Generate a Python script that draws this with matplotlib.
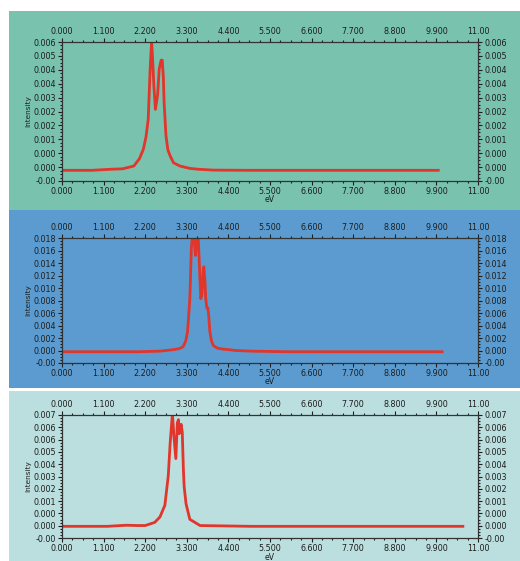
import numpy as np
import matplotlib
matplotlib.use("Agg")
import matplotlib.pyplot as plt
from matplotlib.patches import Rectangle
from matplotlib.ticker import AutoMinorLocator, FixedLocator

# ---- data ----
x_top = [0.0, 0.8, 1.3, 1.6, 1.9, 2.05, 2.15, 2.22, 2.28, 2.33, 2.37, 2.40, 2.43,
         2.47, 2.53, 2.57, 2.62, 2.65, 2.68, 2.70, 2.75, 2.80, 2.86, 2.95, 3.12,
         3.38, 3.6, 4.0, 5.0, 7.0, 9.95]
y_top = [0.00015, 0.00015, 0.00020, 0.00022, 0.00035, 0.0007, 0.00113, 0.0017,
         0.00254, 0.00487, 0.0062, 0.0052, 0.00409, 0.0030, 0.0037, 0.00487,
         0.0053, 0.0053, 0.0045, 0.00331, 0.00175, 0.0011, 0.00082, 0.0005,
         0.00035, 0.00024, 0.0002, 0.00016, 0.00015, 0.00015, 0.00015]

x_mid = [0.0, 2.0, 2.6, 2.9, 3.1, 3.2, 3.27, 3.32, 3.38, 3.42, 3.45, 3.49, 3.53,
         3.56, 3.60, 3.63, 3.67, 3.70, 3.73, 3.75, 3.78, 3.80, 3.83, 3.86, 3.88,
         3.91, 3.95, 4.0, 4.1, 4.22, 4.6, 5.0, 6.0, 10.05]
y_mid = [-0.0002, -0.0002, -0.0001, 0.0001, 0.0003, 0.0006, 0.0015, 0.003,
         0.0083, 0.0163, 0.0186, 0.0180, 0.0152, 0.0180, 0.0186, 0.014, 0.0083,
         0.009, 0.0125, 0.0134, 0.011, 0.0083, 0.0068, 0.0068, 0.0055, 0.003,
         0.0016, 0.0008, 0.0004, 0.00025, 0.0, -0.0001, -0.0002, -0.0002]

x_bot = [0.0, 1.2, 1.7, 2.0, 2.2, 2.45, 2.59, 2.72, 2.81, 2.86, 2.92, 2.96, 3.01,
         3.05, 3.08, 3.10, 3.15, 3.18, 3.21, 3.23, 3.28, 3.38, 3.65, 4.2, 5.0, 10.6]
y_bot = [0.00005, 0.00005, 0.00012, 0.0001, 0.0001, 0.0003, 0.00065, 0.0014,
         0.0033, 0.0054, 0.0073, 0.0058, 0.0044, 0.0067, 0.0069, 0.0060, 0.0066,
         0.0061, 0.0037, 0.0026, 0.0015, 0.0005, 0.0001, 0.00008, 0.00005, 0.00005]

x_ticks = [0.0, 1.1, 2.2, 3.3, 4.4, 5.5, 6.6, 7.7, 8.8, 9.9, 11.0]
x_labels = ["0.000", "1.100", "2.200", "3.300", "4.400", "5.500", "6.600",
            "7.700", "8.800", "9.900", "11.00"]

ylim_top = (-0.00035, 0.00615)
ylab_top = ["-0.00", "0.000", "0.000", "0.001", "0.002", "0.002", "0.003",
            "0.004", "0.004", "0.005", "0.006"]
ylim_mid = (-0.002, 0.018)
ylab_mid = ["-0.00", "0.000", "0.002", "0.004", "0.006", "0.008", "0.010",
            "0.012", "0.014", "0.016", "0.018"]
ylim_bot = (-0.0007, 0.0072)
ylab_bot = ["-0.00", "0.000", "0.000", "0.001", "0.002", "0.003", "0.004",
            "0.005", "0.006", "0.006", "0.007"]

W, H = 520, 561
fig = plt.figure(figsize=(W / 100, H / 100), dpi=100)
fig.patch.set_facecolor("white")

panels = [
    # (bg colour, panel top px, panel bottom px, axes top px, axes bottom px)
    ("#79c2ae", 11, 210, 42, 181, x_top, y_top, ylim_top, ylab_top),
    ("#5c9bcf", 210, 388, 238, 363, x_mid, y_mid, ylim_mid, ylab_mid),
    ("#badfde", 391, 561, 415, 538, x_bot, y_bot, ylim_bot, ylab_bot),
]

txt = "#1e1e1e"
for bg, ptop, pbot, atop, abot, xs, ys, ylim, ylab in panels:
    fig.add_artist(Rectangle((9 / W, 1 - pbot / H), (W - 9) / W, (pbot - ptop) / H,
                             transform=fig.transFigure, facecolor=bg,
                             edgecolor="none", zorder=0))
    ax = fig.add_axes([62 / W, 1 - abot / H, 416 / W, (abot - atop) / H])
    ax.set_facecolor(bg)
    ax.plot(xs, ys, color="#e2352b", lw=2.0, solid_joinstyle="round")
    ax.set_xlim(0, 11)
    ax.set_ylim(*ylim)
    ax.set_xticks(x_ticks)
    ax.set_xticklabels(x_labels)
    ax.yaxis.set_major_locator(FixedLocator(np.linspace(ylim[0], ylim[1], 11)))
    ax.set_yticklabels(ylab)
    ax.xaxis.set_minor_locator(AutoMinorLocator(4))
    ax.yaxis.set_minor_locator(AutoMinorLocator(4))
    ax.tick_params(which="both", direction="out", top=True, right=True,
                   labeltop=True, labelright=True, colors=txt,
                   labelsize=5.8, pad=1.5, width=0.8)
    ax.tick_params(which="major", length=3)
    ax.tick_params(which="minor", length=1.5)
    for s in ax.spines.values():
        s.set_color("#333333")
        s.set_linewidth(0.9)
    ax.set_ylabel("Intensity", fontsize=5.3, color=txt)
    ax.yaxis.set_label_coords(-0.075, 0.5)
    ax.set_xlabel("eV", fontsize=5.6, color=txt)
    ax.xaxis.set_label_coords(0.5, -14.5 / (abot - atop))

fig.savefig("out.png", dpi=100)
